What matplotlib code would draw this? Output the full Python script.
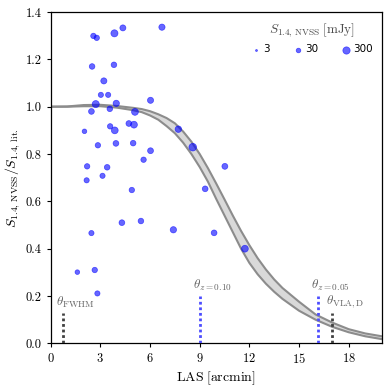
import numpy as np
import matplotlib
matplotlib.use("Agg")
import matplotlib.pyplot as plt

plt.rcParams['font.family'] = 'serif'
plt.rcParams['font.serif'] = ['cmr10']
plt.rcParams['mathtext.fontset'] = 'cm'
plt.rcParams['axes.formatter.use_mathtext'] = True

# --- data ---
las = [2.58, 2.78, 3.85, 4.36, 6.72, 2.50, 3.82, 3.21, 3.03, 3.47, 2.72, 3.96, 6.03,
       2.46, 3.57, 5.09, 2.04, 3.59, 3.87, 4.72, 5.03, 7.71, 8.58, 2.85, 3.94, 4.98,
       6.03, 5.61, 2.20, 3.41, 2.17, 3.13, 4.90, 4.30, 5.45, 7.41, 2.46, 1.61, 2.66,
       2.82, 10.52, 9.33, 9.87, 11.73]
ratio = [1.299, 1.291, 1.310, 1.333, 1.336, 1.170, 1.177, 1.109, 1.050, 1.050, 1.011,
         1.014, 1.027, 0.980, 0.991, 0.978, 0.896, 0.917, 0.900, 0.929, 0.924, 0.905,
         0.829, 0.837, 0.845, 0.846, 0.814, 0.776, 0.748, 0.744, 0.689, 0.708, 0.648,
         0.510, 0.517, 0.480, 0.466, 0.301, 0.310, 0.211, 0.748, 0.653, 0.467, 0.400]
flux = [60, 60, 250, 100, 120, 70, 70, 110, 50, 50, 250, 130, 110,
        80, 70, 200, 30, 60, 200, 80, 200, 150, 400, 60, 80, 70,
        90, 60, 60, 70, 50, 50, 60, 80, 70, 130, 50, 30, 60,
        50, 90, 80, 80, 200]

band_x = [0, 1, 2, 3, 4, 5, 5.5, 6, 6.5, 7, 7.5, 8, 8.5, 9, 9.5, 10, 10.5, 11, 11.5,
          12, 12.5, 13, 13.5, 14, 15, 16, 17, 18, 19, 20]
band_upper = [1.000, 1.001, 1.007, 1.008, 1.003, 0.995, 0.990, 0.981, 0.968, 0.952,
              0.930, 0.895, 0.852, 0.800, 0.740, 0.675, 0.608, 0.540, 0.475, 0.415,
              0.360, 0.312, 0.270, 0.234, 0.176, 0.122, 0.088, 0.060, 0.042, 0.030]
band_lower = [1.000, 1.000, 1.002, 1.002, 0.996, 0.985, 0.977, 0.963, 0.945, 0.918,
              0.888, 0.848, 0.800, 0.745, 0.683, 0.610, 0.540, 0.470, 0.400, 0.340,
              0.292, 0.252, 0.218, 0.188, 0.138, 0.100, 0.070, 0.047, 0.030, 0.018]

# vertical markers: position, height, label, colour
mark_x = [0.76, 9.0, 16.17, 17.02]
mark_h = [0.13, 0.20, 0.20, 0.13]
mark_lab = [r'$\theta_{\rm FWHM}$', r'$\theta_{z=0.10}$', r'$\theta_{z=0.05}$', r'$\theta_{\rm VLA,D}$']
mark_col = ['0.25', '#4d4dff', '#4d4dff', '0.25']

legend_flux = [3, 30, 300]


def msize(S):
    d_px = 0.73 + 2.65 * np.log10(np.asarray(S, dtype=float))
    return (d_px * 72 / 100.0) ** 2


fig = plt.figure(figsize=(3.9, 3.88), dpi=100)
ax = fig.add_axes([0.130, 0.115, 0.849, 0.854])

ax.fill_between(band_x, band_lower, band_upper, color='0.85', lw=0, zorder=1)
ax.plot(band_x, band_upper, color='0.55', lw=1.5, zorder=2)
ax.plot(band_x, band_lower, color='0.55', lw=1.5, zorder=2)

for xv, h, lab, c in zip(mark_x, mark_h, mark_lab, mark_col):
    ax.plot([xv, xv], [0, h], ls=(0, (1, 1)), color=c, lw=2, zorder=3)
    ax.text(xv - 0.42, h + 0.012, lab, color='0.4', fontsize=9.5, ha='left', va='bottom')

ax.scatter(las, ratio, s=msize(flux), color='blue', alpha=0.6, lw=0.5, zorder=4)

handles = [ax.scatter([], [], s=msize(f), color='blue', alpha=0.6, lw=0.5) for f in legend_flux]
leg = ax.legend(handles, [str(f) for f in legend_flux], ncol=3, loc='upper right',
                frameon=False, title=r'$S_{1.4,\,\rm NVSS}\;[\rm mJy]$',
                prop={'family': 'DejaVu Sans', 'size': 7.5}, handletextpad=0.15,
                columnspacing=2.2, borderaxespad=0.5, handlelength=1.0)
leg.get_title().set_fontsize(9.5)
leg.get_title().set_color('0.3')

ax.set_xlim(0, 20)
ax.set_ylim(0, 1.4)
ax.set_xticks([0, 3, 6, 9, 12, 15, 18])
ax.set_yticks([0.0, 0.2, 0.4, 0.6, 0.8, 1.0, 1.2, 1.4])
ax.set_yticklabels(['0.0', '0.2', '0.4', '0.6', '0.8', '1.0', '1.2', '1.4'])
ax.tick_params(labelsize=9, direction='out', length=3, width=0.8)
ax.set_xlabel(r'$\rm LAS\;[arcmin]$', fontsize=10, labelpad=2)
ax.set_ylabel(r'$S_{1.4,\,\rm NVSS}/S_{1.4,\,\rm lit.}$', fontsize=10, labelpad=3)
for sp in ax.spines.values():
    sp.set_linewidth(0.9)

fig.savefig('out.png', dpi=100)
